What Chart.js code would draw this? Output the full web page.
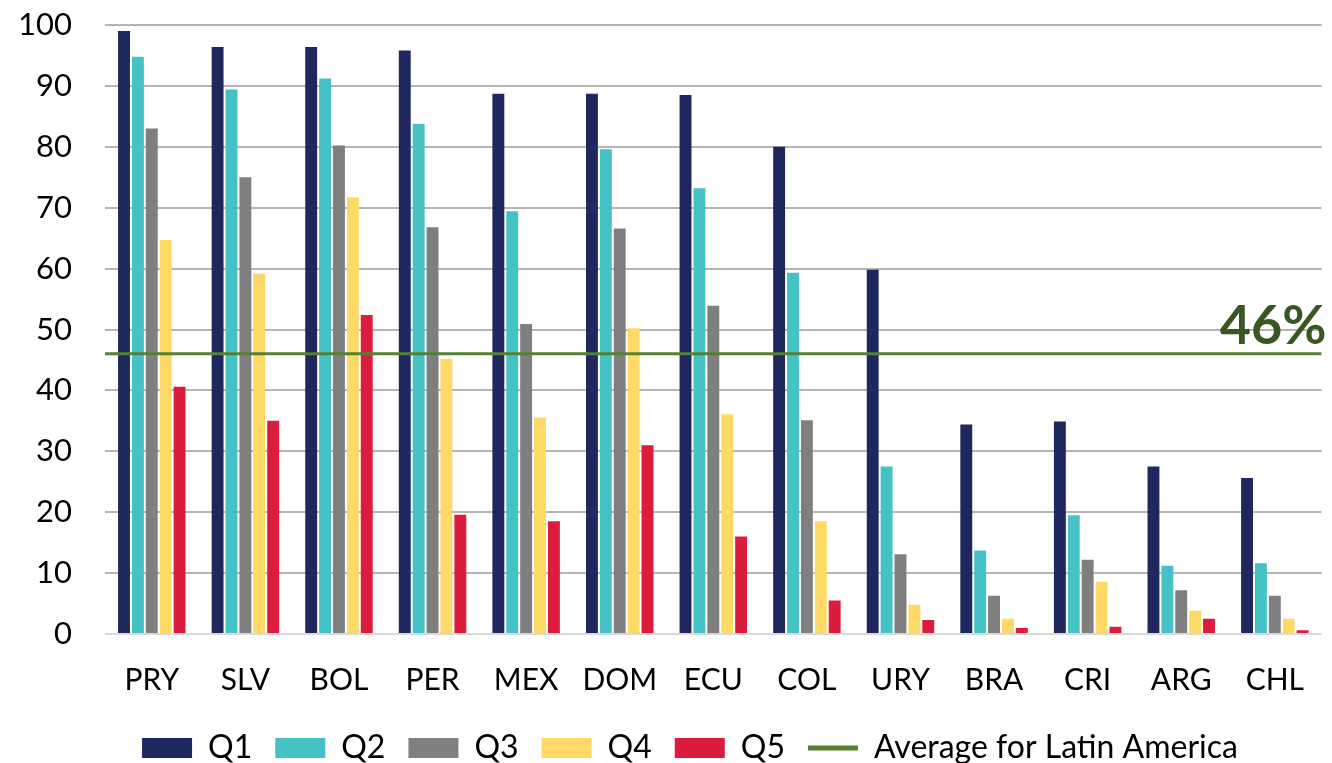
<!DOCTYPE html>
<html>
<head>
<meta charset="utf-8">
<script src="https://cdn.jsdelivr.net/npm/chart.js@4"></script>
<style>
  html, body { margin: 0; padding: 0; background: #ffffff; overflow: hidden; }
  #wrap { width: 1332px; height: 763px; overflow: hidden; }
</style>
</head>
<body>
<div id="wrap"><canvas id="chart" width="1332" height="774"></canvas></div>
<script>
// Share of households by income quintile, per country
const categories = ['PRY', 'SLV', 'BOL', 'PER', 'MEX', 'DOM', 'ECU', 'COL', 'URY', 'BRA', 'CRI', 'ARG', 'CHL'];
const q1 = [99.0, 96.4, 96.4, 95.8, 88.7, 88.7, 88.5, 80.0, 59.8, 34.4, 34.9, 27.5, 25.6];
const q2 = [94.8, 89.4, 91.2, 83.8, 69.4, 79.6, 73.2, 59.3, 27.5, 13.7, 19.5, 11.2, 11.6];
const q3 = [83.0, 75.0, 80.2, 66.8, 50.9, 66.6, 53.9, 35.1, 13.1, 6.3, 12.2, 7.2, 6.3];
const q4 = [64.7, 59.2, 71.7, 45.2, 35.5, 50.2, 36.1, 18.5, 4.8, 2.5, 8.6, 3.8, 2.5];
const q5 = [40.6, 35.0, 52.4, 19.6, 18.5, 31.0, 16.0, 5.5, 2.3, 1.0, 1.2, 2.5, 0.6];
const latinAmericaAverage = 46;
const yTicks = [0, 10, 20, 30, 40, 50, 60, 70, 80, 90, 100];

const seriesNames = ['Q1', 'Q2', 'Q3', 'Q4', 'Q5'];
const seriesValues = [q1, q2, q3, q4, q5];
const seriesColors = ['#1f285e', '#45c2c5', '#7f7f7f', '#ffd966', '#dc1c3c'];
const avgColor = '#548235';
const avgLabelColor = '#385723';

// Vertical bars; every dataset shares the 'y' value axis so the bar
// groups are sized as one group per category
const barDatasets = seriesNames.map((name, i) => ({
  type: 'bar',
  indexAxis: 'x',
  label: name,
  data: seriesValues[i],
  backgroundColor: seriesColors[i],
  borderWidth: 0,
  pointStyle: 'rect',
  categoryPercentage: 0.742,
  barPercentage: 0.857,
  xAxisID: 'x',
  yAxisID: 'y',
  order: i + 1
}));

// Average line spans the whole plot width on its own hidden 0..1 axis
const avgDataset = {
  type: 'line',
  indexAxis: 'x',
  label: 'Average for Latin America',
  data: [{ x: 0, y: latinAmericaAverage }, { x: 1, y: latinAmericaAverage }],
  borderColor: avgColor,
  borderWidth: 3,
  pointRadius: 0,
  pointStyle: 'line',
  pointBorderColor: avgColor,
  pointBackgroundColor: avgColor,
  pointBorderWidth: 5,
  xAxisID: 'xLine',
  yAxisID: 'y',
  order: 0
};

// "46%" caption above the average line
const avgLabelPlugin = {
  id: 'avgLabel',
  afterDatasetsDraw(chart) {
    const { ctx, chartArea, scales } = chart;
    const y = scales.y.getPixelForValue(latinAmericaAverage);
    ctx.save();
    ctx.font = 'bold 54px Lato';
    ctx.fillStyle = avgLabelColor;
    ctx.textAlign = 'right';
    ctx.textBaseline = 'alphabetic';
    ctx.fillText(latinAmericaAverage + '%', chartArea.right + 5, y - 10);
    ctx.restore();
  }
};

// Nudge the legend row a little to the right of the canvas centre
const legendShift = {
  id: 'legendShift',
  afterLayout(chart) {
    if (chart.legend) {
      chart.legend.left += 24;
      chart.legend.right += 24;
    }
  }
};

new Chart(document.getElementById('chart'), {
  data: {
    labels: categories,
    datasets: [...barDatasets, avgDataset]
  },
  options: {
    indexAxis: 'y',
    responsive: false,
    animation: false,
    devicePixelRatio: 1,
    layout: { padding: { top: 25, right: 0, left: 0, bottom: 0 } },
    scales: {
      x: {
        type: 'category',
        offset: true,
        grid: { display: false, drawTicks: false },
        border: { display: false },
        ticks: {
          color: '#000000',
          font: { family: 'Lato', size: 30 },
          padding: 28,
          maxRotation: 0,
          autoSkip: false
        },
        afterFit(scale) { scale.height = 75; }
      },
      xLine: {
        type: 'linear',
        offset: false,
        min: 0,
        max: 1,
        display: false
      },
      y: {
        type: 'linear',
        offset: false,
        min: 0,
        max: 100,
        afterBuildTicks(scale) { scale.ticks = yTicks.map(v => ({ value: v })); },
        grid: {
          color: (c) => (c.tick && c.tick.value === 0 ? '#d9d9d9' : '#b5b5b5'),
          lineWidth: 2,
          drawTicks: false,
          offset: false
        },
        border: { display: false },
        ticks: {
          color: '#000000',
          font: { family: 'Lato', size: 31 },
          padding: 33
        },
        afterFit(scale) {
          scale.width = 105;
          scale.paddingTop = 0;
          scale.paddingBottom = 0;
        }
      }
    },
    plugins: {
      legend: {
        position: 'bottom',
        labels: {
          usePointStyle: true,
          pointStyleWidth: 50,
          boxHeight: 20,
          padding: 23,
          color: '#000000',
          font: { family: 'Lato', size: 32 },
          sort: (a, b) => a.datasetIndex - b.datasetIndex
        }
      },
      tooltip: { enabled: false }
    }
  },
  plugins: [avgLabelPlugin, legendShift]
});
</script>
</body>
</html>
